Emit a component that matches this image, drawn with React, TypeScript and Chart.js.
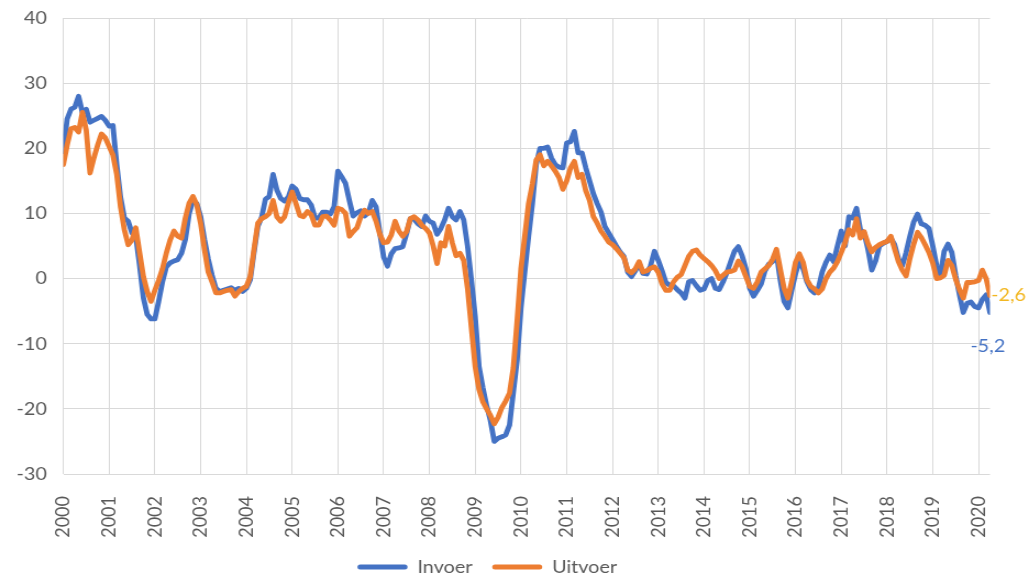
import React, { useEffect, useRef } from 'react';
import { Chart, registerables } from 'chart.js';

Chart.register(...registerables);

// Year tick labels (one per January, every 12 months)
const yearLabels = [
  '2000', '2001', '2002', '2003', '2004', '2005', '2006', '2007', '2008', '2009', '2010',
  '2011', '2012', '2013', '2014', '2015', '2016', '2017', '2018', '2019', '2020',
];

// Invoer (imports), monthly % change, Jan 2000 .. Apr 2020
const invoer = [
  19.5, 24.5, 26, 26.3, 28, 25.5, 26, 24, 24.3, 24.6, 24.9, 24.3,
  23.4, 23.5, 17.5, 12.5, 9.3, 8.8, 7, 6.5, 2, -3, -5.5, -6.2,
  -6.2, -3.5, -0.5, 1.8, 2.4, 2.7, 2.9, 3.9, 6, 10, 12, 11.5,
  9.5, 6, 3, 0.5, -1.5, -2, -1.8, -1.6, -1.4, -1.8, -1.5, -2,
  -1.5, -0.2, 4, 8, 9.4, 12.2, 12.6, 16, 13.6, 12.3, 11.9, 12.5,
  14.2, 13.7, 12.3, 12.1, 12.1, 11.3, 9.3, 9.3, 10.2, 10.2, 9.9, 11,
  16.5, 15.6, 14.6, 12, 9.6, 10.1, 10.4, 9.6, 10.1, 12, 11, 7,
  3.3, 1.9, 3.8, 4.6, 4.7, 4.9, 6.9, 9.2, 9.1, 8.4, 8, 9.6,
  8.8, 8.5, 6.8, 7.7, 9, 10.8, 9.5, 9, 10.3, 9, 5, -0.2,
  -5.8, -13.5, -16.7, -19.5, -21.8, -25, -24.5, -24.3, -24, -22.5, -17.5, -12.5,
  -4.5, 1, 6.5, 11.5, 17.5, 20, 20, 20.2, 18.5, 17.5, 17.1, 17,
  20.8, 21, 22.6, 19.3, 19.3, 17, 15, 13, 11.5, 10.2, 8, 7,
  6, 5, 4.1, 3.4, 1, 0.3, 1.2, 2.3, 0.8, 0.7, 2, 4.2,
  2.8, 1.2, -0.6, -1, -1.1, -1.7, -2.2, -3, -0.5, -0.3, -1.1, -1.8,
  -1.6, -0.3, 0, -1.5, -1.7, -0.5, 0.9, 2.6, 4.2, 4.9, 3.5, 1.5,
  -1.5, -2.7, -1.8, -0.8, 1.2, 2.2, 2.6, 3.9, -0.2, -3.5, -4.5, -1.8,
  0.7, 2.8, 1.5, -0.5, -1.7, -2.2, -1.5, 1, 2.5, 3.6, 2.6, 5,
  7.3, 5, 9.5, 9.3, 10.8, 7.5, 7, 4.5, 1.3, 2.7, 5, 5.4,
  5.7, 6.2, 5.2, 3, 2, 4, 6.5, 8.7, 9.9, 8.4, 8.2, 7.7,
  5, 2, 0.5, 4.2, 5.3, 4, 0.5, -2.5, -5.2, -3.8, -3.6, -4.3,
  -4.5, -3.2, -2.5, -5.2,
];

// Uitvoer (exports), monthly % change, Jan 2000 .. Apr 2020
const uitvoer = [
  17.5, 20.5, 23, 23.2, 22.5, 25.5, 22.8, 16.2, 18.5, 20.5, 22.2, 21.6,
  20.3, 19, 16, 11, 7.5, 5.2, 5.9, 7.8, 4, 0.3, -2, -3.5,
  -1.8, -0.3, 1.5, 3.9, 5.9, 7.3, 6.5, 6.2, 9.3, 11.6, 12.6, 11.3,
  8.5, 4.5, 1, -0.5, -2.2, -2.2, -2, -1.8, -1.7, -2.7, -2, -1.5,
  -1.2, 0.3, 4.5, 8.5, 9.2, 9.5, 10, 12, 9.5, 8.8, 9.5, 11.6,
  13.3, 11.5, 9.7, 9.5, 10.3, 9.8, 8.2, 8.2, 9.5, 9.6, 9, 8.2,
  10.8, 10.6, 10, 6.5, 7.2, 7.8, 9.5, 10.5, 10, 10.3, 8.8, 6.8,
  5.5, 5.6, 6.7, 8.8, 7.3, 6.5, 7.2, 9.2, 9.5, 9, 8.2, 7.7,
  7, 5, 2.3, 5.5, 5, 8, 5.5, 3.5, 3.9, 2.8, -1.5, -7.5,
  -13.5, -17, -18.9, -20, -21, -22.3, -21.3, -19.8, -18.8, -17.6, -13.7, -6.5,
  1.5, 6.5, 11.5, 14.5, 18.2, 19, 17.3, 18, 17.3, 16.5, 15.5, 13.7,
  15, 17, 18, 15.5, 16, 13.5, 12, 9.5, 8.5, 7.3, 6.5, 5.6,
  5.2, 4.6, 3.9, 3.2, 1.3, 0.9, 1.5, 2.6, 1, 1.2, 1.6, 1.8,
  1, -0.8, -1.8, -1.8, -0.5, 0.2, 0.6, 2, 3.4, 4.2, 4.4, 3.6,
  3.1, 2.6, 2, 1.2, 0, 0.5, 1, 1.1, 1.3, 2.7, 1.8, 0.3,
  -1.2, -1.5, -0.5, 1, 1.5, 2, 3, 4.5, 1.5, -1.5, -3, -0.5,
  2.5, 3.8, 2.5, -0.2, -1.2, -1.6, -2.2, -1.6, 0, 1, 1.6, 2.6,
  4, 5.5, 7.5, 6.7, 9.2, 6.2, 7.2, 5.4, 4.1, 4.8, 5.2, 5.5,
  5.7, 6.5, 4.5, 2.6, 1.3, 0.4, 3.1, 5.3, 7.1, 6.3, 5.2, 4,
  2.4, 0, 0.1, 0.5, 2.8, 2, -0.1, -1.7, -3, -0.6, -0.6, -0.5,
  -0.3, 1.3, 0, -2.6,
];

const invoerLastLabel = '-5,2';
const uitvoerLastLabel = '-2,6';

const BLUE = '#4472C4';
const ORANGE = '#ED7D31';
const GOLD = '#F2B722';
const TEXT = '#595959';
const GRID = '#D9D9D9';
const FONT = 'Lato';

const CANVAS_W = 936;
const CANVAS_H = 578;
const STRETCH = 1029 / CANVAS_W;

const endLabelPlugin = {
  id: 'endLabels',
  afterDatasetsDraw(chart: any) {
    const ctx = chart.ctx;
    ctx.save();
    ctx.font = `18px ${FONT}`;
    ctx.textBaseline = 'middle';
    const mU = chart.getDatasetMeta(1);
    const pU = mU.data[mU.data.length - 1];
    if (pU) {
      ctx.fillStyle = GOLD;
      ctx.textAlign = 'left';
      ctx.fillText(uitvoerLastLabel, pU.x + 1, pU.y);
    }
    const mI = chart.getDatasetMeta(0);
    const pI = mI.data[mI.data.length - 1];
    if (pI) {
      ctx.fillStyle = BLUE;
      ctx.textAlign = 'center';
      ctx.fillText(invoerLastLabel, pI.x - 2, pI.y + 34);
    }
    ctx.restore();
  },
};

export default function App() {
  const canvasRef = useRef<HTMLCanvasElement | null>(null);

  useEffect(() => {
    const canvas = canvasRef.current;
    if (!canvas) return;
    Chart.defaults.font.family = FONT;
    const legendPadding = 18;
    const leftShift = 14;
    const chart = new Chart(canvas, {
      type: 'line',
      data: {
        datasets: [
          {
            label: 'Invoer',
            data: invoer.map((v, i) => ({ x: i, y: v })),
            borderColor: BLUE,
            backgroundColor: BLUE,
            borderWidth: 4.8,
            pointRadius: 0,
            tension: 0,
            borderJoinStyle: 'round',
            borderCapStyle: 'round',
            order: 1,
          },
          {
            label: 'Uitvoer',
            data: uitvoer.map((v, i) => ({ x: i, y: v })),
            borderColor: ORANGE,
            backgroundColor: ORANGE,
            borderWidth: 4.8,
            pointRadius: 0,
            tension: 0,
            borderJoinStyle: 'round',
            borderCapStyle: 'round',
            order: 0,
          },
        ],
      },
      options: {
        responsive: false,
        animation: false,
        devicePixelRatio: 1,
        layout: {
          padding: { top: 18, right: 35.5, bottom: 10 - legendPadding, left: -leftShift },
        },
        scales: {
          x: {
            type: 'linear',
            min: 0,
            max: invoer.length - 1,
            afterBuildTicks: (scale: any) => {
              scale.ticks = yearLabels.map((_, k) => ({ value: k * 12 }));
            },
            afterFit: (scale: any) => {
              scale.height = 66;
            },
            grid: {
              color: GRID,
              lineWidth: 1,
              drawTicks: true,
              tickLength: 22,
              tickColor: 'rgba(0,0,0,0)',
            },
            border: { display: false },
            ticks: {
              autoSkip: false,
              minRotation: 90,
              maxRotation: 90,
              padding: 0,
              color: TEXT,
              font: { size: 18, family: FONT },
              callback: (v: any) => yearLabels[Math.round(Number(v) / 12)] ?? '',
            },
          },
          y: {
            min: -30,
            max: 40,
            afterFit: (scale: any) => {
              scale.width = 57.6 + leftShift;
            },
            grid: {
              color: GRID,
              lineWidth: 1,
              drawTicks: true,
              tickLength: 15,
              tickColor: 'rgba(0,0,0,0)',
            },
            border: { display: false },
            ticks: {
              stepSize: 10,
              padding: 0,
              color: TEXT,
              font: { size: 18, family: FONT },
            },
          },
        },
        plugins: {
          tooltip: { enabled: false },
          legend: {
            position: 'bottom',
            labels: {
              boxWidth: 45.5,
              boxHeight: 5,
              padding: legendPadding,
              color: TEXT,
              font: { size: 18, family: FONT },
              useBorderRadius: true,
              borderRadius: 2.5,
              sort: (a: any, b: any) => a.datasetIndex - b.datasetIndex,
              generateLabels: (ch: any) => {
                const items = (Chart.defaults.plugins.legend.labels as any).generateLabels(ch);
                return items.map((it: any) => ({ ...it, lineWidth: 0, fillStyle: it.strokeStyle }));
              },
            },
          },
        },
      },
      plugins: [endLabelPlugin],
    } as any);
    return () => chart.destroy();
  }, []);

  return (
    <div
      style={{
        position: 'fixed',
        left: 0,
        top: 0,
        width: 1029,
        height: 578,
        overflow: 'hidden',
        background: '#ffffff',
      }}
    >
      <canvas
        ref={canvasRef}
        width={CANVAS_W}
        height={CANVAS_H}
        style={{
          display: 'block',
          width: CANVAS_W,
          height: CANVAS_H,
          transform: `scaleX(${STRETCH})`,
          transformOrigin: '0 0',
        }}
      />
    </div>
  );
}
